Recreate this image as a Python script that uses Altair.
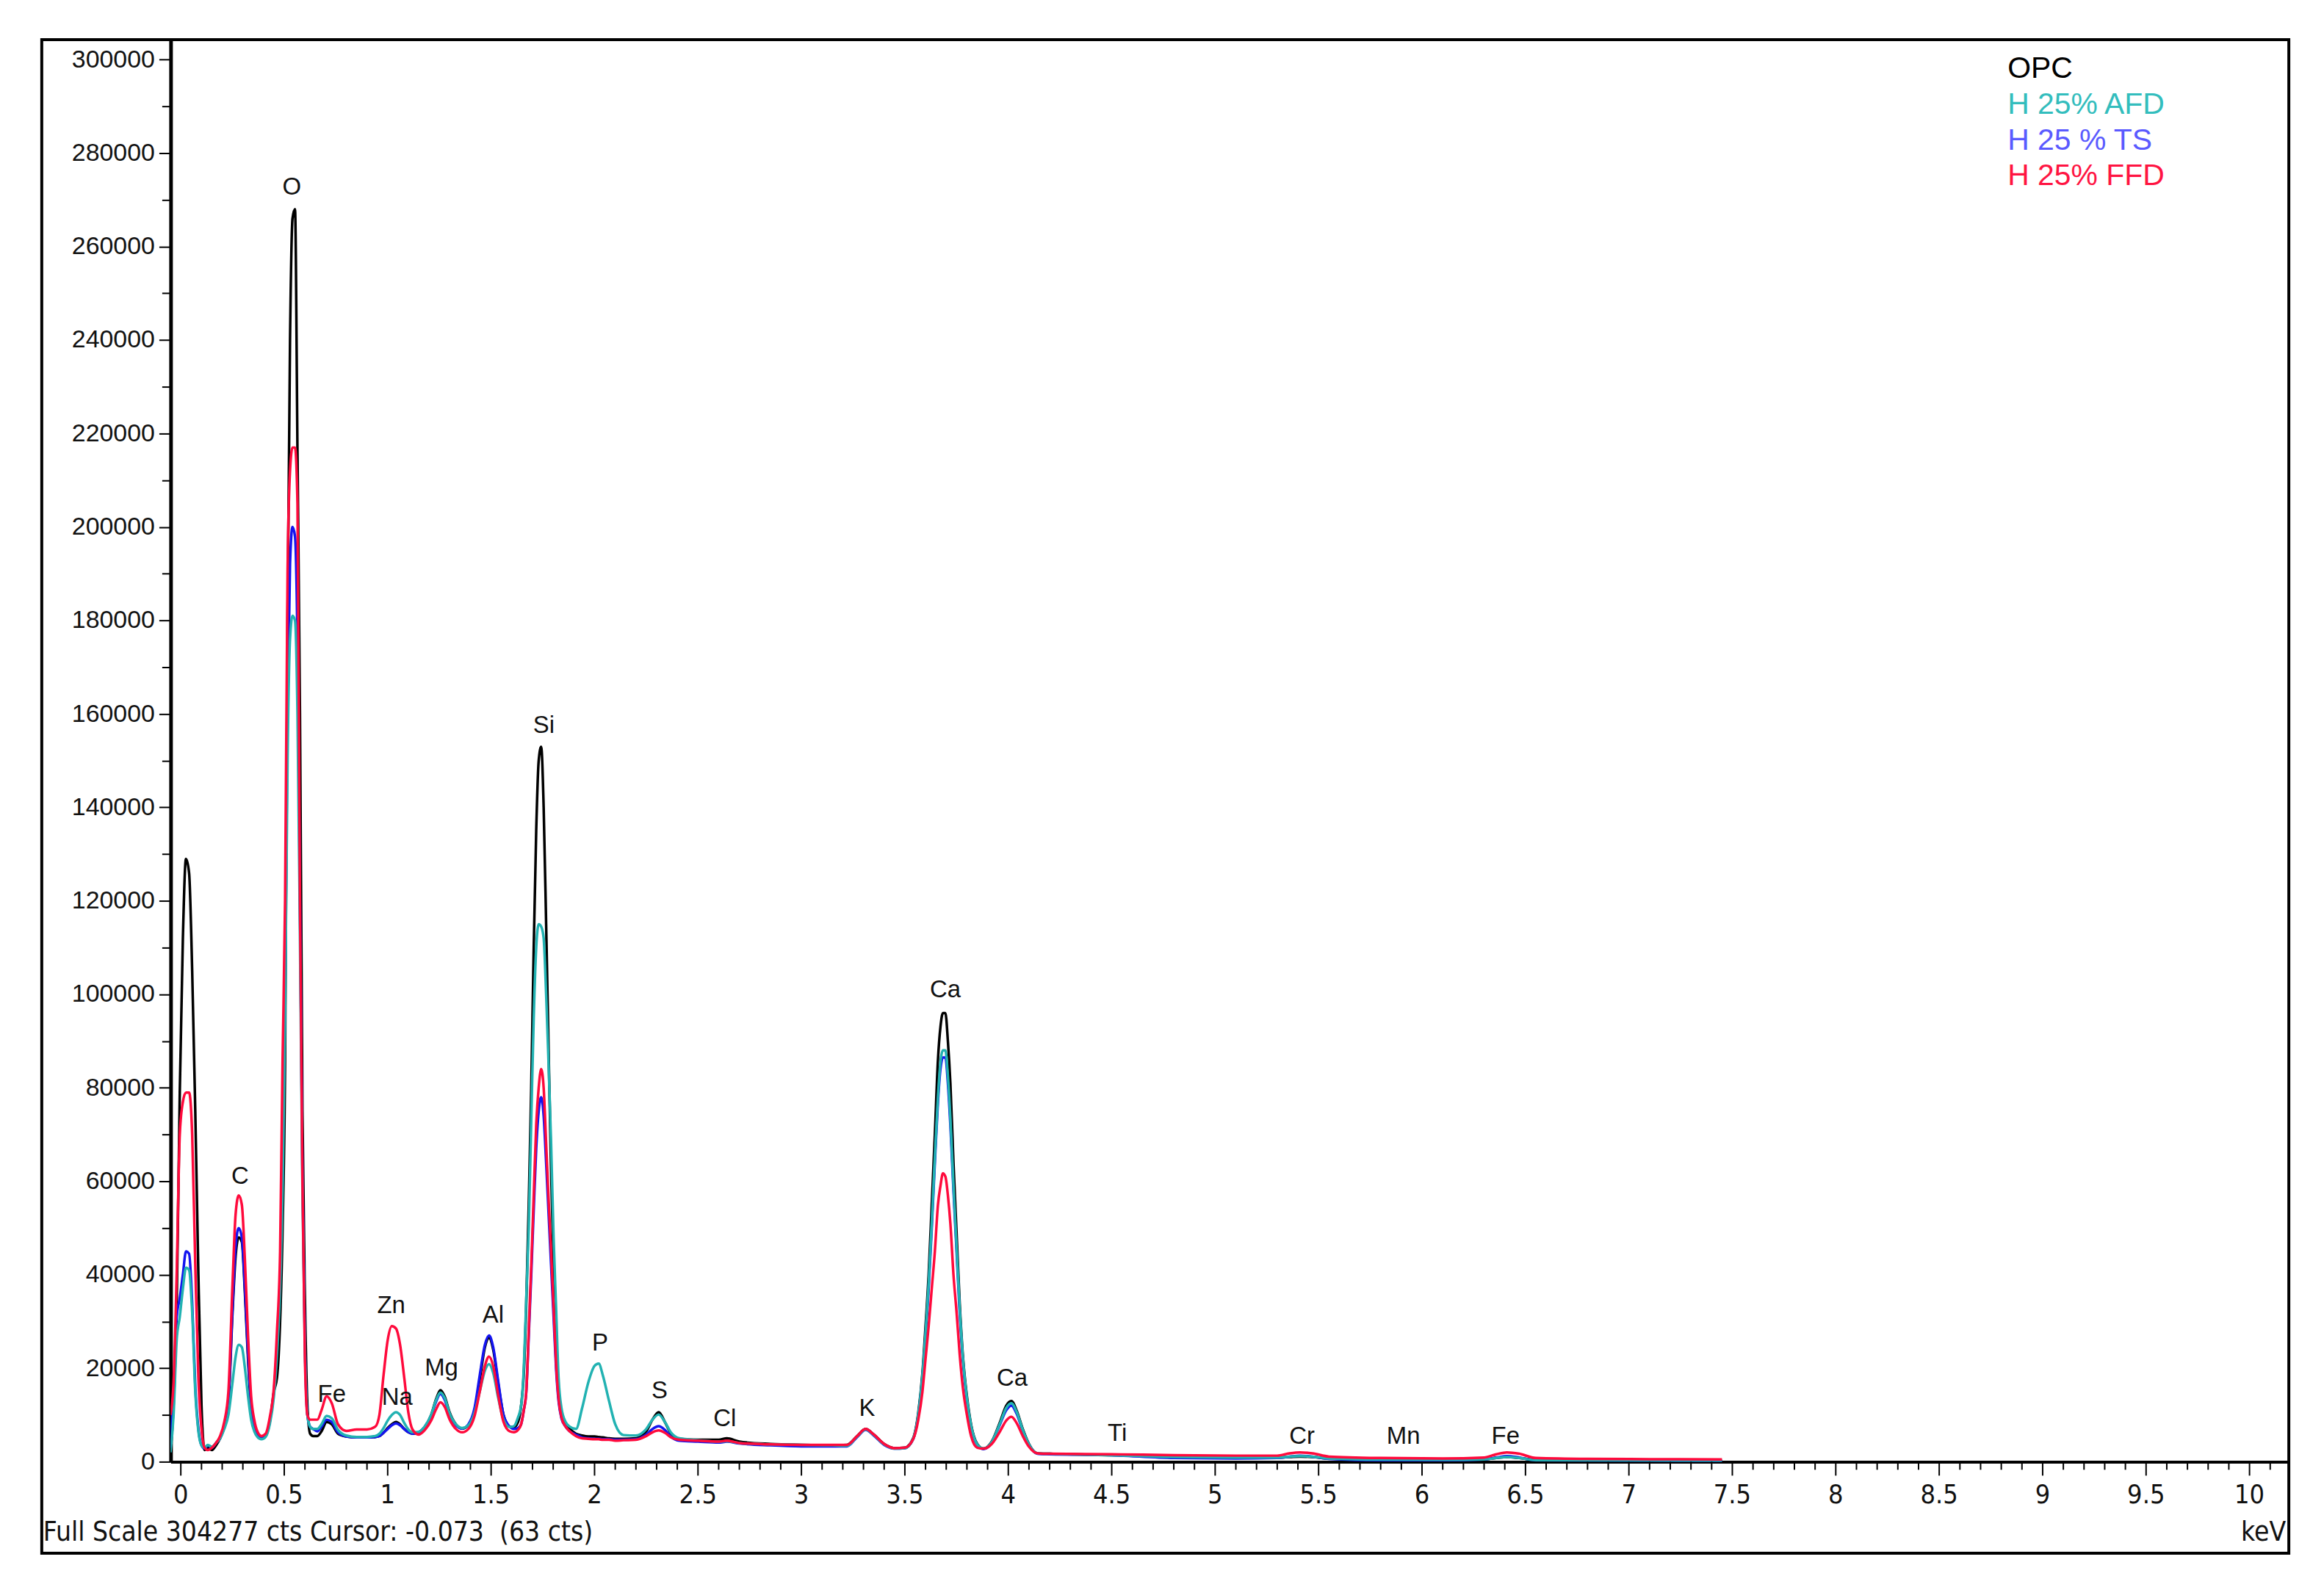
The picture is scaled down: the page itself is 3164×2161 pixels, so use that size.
import json
import altair as alt
import pandas as pd

# ---------------- data ----------------
kev = [
    -0.05, -0.035, -0.02, -0.005, 0.01, 0.025, 0.04, 0.055, 0.07, 0.085, 0.1, 0.115, 0.13,
    0.15, 0.17, 0.19, 0.21, 0.23, 0.25, 0.265, 0.28, 0.295, 0.31, 0.325, 0.34, 0.355, 0.37, 0.39, 0.41, 0.43, 0.45,
    0.465, 0.48, 0.492, 0.504, 0.516, 0.528, 0.54, 0.552, 0.564, 0.576, 0.588, 0.6, 0.612, 0.625, 0.64,
    0.66, 0.68, 0.705, 0.73, 0.76, 0.8, 0.85, 0.9, 0.94, 0.96, 0.98, 1.0, 1.02, 1.04, 1.06, 1.08, 1.1, 1.12, 1.15, 1.18,
    1.21, 1.235, 1.255, 1.275, 1.3, 1.33, 1.36, 1.39, 1.42, 1.445, 1.47, 1.49, 1.51, 1.535, 1.56, 1.59, 1.61, 1.63,
    1.645, 1.658, 1.67, 1.682, 1.694, 1.706, 1.718, 1.73, 1.742, 1.754, 1.766, 1.778, 1.79, 1.802, 1.814, 1.826, 1.84, 1.86, 1.88,
    1.91, 1.94, 1.97, 2.0, 2.02, 2.04, 2.07, 2.1, 2.14, 2.2, 2.25, 2.28, 2.31, 2.34, 2.37, 2.41, 2.5, 2.6, 2.64, 2.7, 2.85, 3.0, 3.15,
    3.22, 3.27, 3.31, 3.35, 3.4, 3.45, 3.5, 3.54, 3.565, 3.585, 3.6, 3.615, 3.63, 3.645, 3.66, 3.672, 3.684, 3.696, 3.708, 3.72,
    3.735, 3.75, 3.765, 3.78, 3.8, 3.82, 3.85, 3.88, 3.92, 3.96, 3.99, 4.015, 4.04, 4.07, 4.1, 4.14, 4.2,
    4.5, 4.8, 5.1, 5.3, 5.36, 5.41, 5.47, 5.55, 5.8, 6.1, 6.3, 6.36, 6.41, 6.47, 6.55, 6.8, 7.1, 7.45,
]

opc_cts = [
    2000, 12000, 33000, 79000, 112000, 129000, 126000, 105000, 75000, 40000, 12000, 2500, 3000,
    2500, 3500, 5000, 7500, 12500, 32000, 44000, 48000, 47000, 36000, 22000, 11500, 7500, 5800, 5000, 5500, 8500, 15000,
    18000, 30000, 50000, 85000, 180000, 240000, 266000, 268000, 216000, 160000, 75000, 35000, 12000, 6000, 5500,
    5500, 6500, 8500, 8000, 6000, 5400, 5200, 5200, 5300, 5500, 6200, 7200, 8000, 8500, 8000, 7000, 6300, 6000, 6300, 7500,
    10000, 13500, 15300, 14000, 10500, 8000, 7100, 7800, 11000, 17500, 24500, 26500, 24000, 16500, 10000, 7500, 7400, 8500,
    12000, 19000, 34000, 55000, 80000, 110000, 135000, 150000, 153000, 140000, 115000, 88000, 62000, 42000, 25000, 14000, 10000, 8000, 7000,
    6000, 5600, 5400, 5400, 5300, 5200, 5000, 4900, 4900, 5000, 6500, 9000, 10600, 8500, 6000, 4900, 4700, 4700, 5000, 4300, 3800, 3600, 3500,
    3600, 5500, 7000, 5800, 3800, 2900, 3000, 5000, 10500, 19000, 29000, 40000, 55000, 70000, 86000, 93000, 96000, 96000, 90000, 81000,
    64000, 49000, 34000, 23000, 14000, 8000, 3800, 2800, 4300, 8500, 12000, 13000, 11000, 7000, 3800, 1800, 1700,
    1400, 1100, 900, 900, 1000, 1100, 1000, 700, 500, 400, 500, 800, 1000, 800, 400, 300, 250, 200,
]

afd_cts = [
    2000, 10000, 26000, 31000, 37000, 41500, 41000, 32000, 15000, 6500, 3500, 3000, 3600,
    3200, 4000, 5000, 7000, 10000, 17000, 22500, 25000, 24500, 20000, 14000, 9000, 6500, 5300, 4800, 5300, 8000, 14000,
    23000, 37000, 58000, 95000, 150000, 176000, 181000, 180000, 160000, 112000, 58000, 24000, 10000, 7500, 7000,
    7000, 8000, 9800, 9300, 6800, 5600, 5300, 5300, 5500, 6000, 7200, 8800, 10000, 10600, 10000, 8300, 6900, 6300, 6400, 7600,
    10000, 13300, 14800, 13700, 10300, 8000, 7200, 7800, 10500, 15000, 19500, 20900, 19000, 13500, 9000, 7400, 7600, 9500,
    12000, 20000, 35000, 50000, 73000, 95000, 110000, 115000, 114500, 112000, 100000, 85000, 68000, 48000, 33000, 18000, 11500, 8500, 7500,
    7000, 11500, 17000, 20500, 21000, 18500, 13000, 8000, 5700, 5600, 7000, 9000, 10100, 8500, 6200, 5000, 4600, 4300, 4400, 4000, 3700, 3600, 3500,
    3400, 5400, 6900, 5700, 3700, 2800, 2900, 4900, 10200, 18500, 27500, 38000, 51000, 65000, 78000, 85500, 88000, 88000, 82500, 73500,
    59000, 46000, 33000, 22500, 13500, 7800, 3700, 2800, 4200, 8200, 11500, 12500, 10700, 6800, 3700, 1800, 1700,
    1400, 1000, 900, 900, 1100, 1200, 1100, 700, 450, 400, 500, 800, 1000, 800, 350, 300, 250, 200,
]

ts_cts = [
    3000, 15000, 31000, 35000, 40000, 45000, 44500, 34000, 16000, 7000, 3500, 2800, 3500,
    3000, 4000, 5000, 7500, 13000, 33000, 46000, 50000, 48000, 37000, 23000, 12000, 8000, 6000, 5000, 5500, 8500, 15000,
    25000, 40000, 62000, 100000, 160000, 192000, 200000, 198000, 175000, 120000, 62000, 25000, 10000, 7500, 7000,
    6500, 7500, 9000, 8500, 6300, 5400, 5200, 5200, 5300, 5500, 6200, 7000, 7800, 8200, 7800, 7000, 6300, 6000, 6300, 7500,
    9800, 13000, 14500, 13300, 10000, 7800, 7100, 8000, 11500, 18500, 25000, 27000, 24500, 17000, 10000, 7500, 7000, 7200,
    8000, 11000, 15000, 27000, 40000, 54000, 67000, 75000, 78000, 74000, 64000, 53000, 42000, 31000, 20000, 13000, 9300, 7500, 6500,
    5800, 5200, 5000, 4900, 4900, 4800, 4800, 4700, 4700, 4800, 5800, 7000, 7600, 6800, 5300, 4500, 4300, 4100, 4300, 3900, 3500, 3300, 3300,
    3300, 5300, 6800, 5600, 3600, 2800, 2900, 4800, 10000, 18000, 27000, 37000, 50000, 64000, 77000, 84000, 86500, 86500, 81000, 72000,
    58000, 45000, 32000, 22000, 13000, 7500, 3600, 2700, 4100, 8000, 11000, 12000, 10300, 6600, 3600, 1700, 1600,
    1400, 800, 700, 800, 1100, 1300, 1100, 600, 300, 300, 500, 900, 1200, 900, 300, 250, 200, 150,
]

ffd_cts = [
    10000, 17000, 40000, 70000, 77000, 79000, 79000, 70000, 42000, 18000, 7000, 3000, 2500,
    3000, 4000, 5500, 8500, 15000, 38000, 53000, 57000, 55000, 43000, 27000, 14000, 9000, 6500, 5500, 6000, 9500, 16000,
    28000, 45000, 86000, 120000, 190000, 212000, 217000, 217000, 205000, 120000, 60000, 22000, 10000, 9000, 9000,
    9000, 11000, 14000, 12500, 8000, 6600, 6900, 6900, 7500, 10000, 18500, 26000, 29000, 28500, 25000, 18000, 10500, 6900, 5800, 6800,
    8800, 11300, 12700, 11800, 9000, 7000, 6300, 7000, 9800, 15000, 20500, 22500, 20500, 14000, 8500, 6500, 6300, 6800,
    8000, 11000, 15000, 28000, 42000, 57000, 72000, 80000, 84000, 80000, 68000, 56000, 45000, 33000, 21000, 13500, 9500, 7500, 6500,
    5500, 5000, 4900, 4800, 4800, 4700, 4700, 4500, 4600, 4700, 5500, 6300, 6700, 6200, 5200, 4700, 4500, 4300, 4500, 4000, 3700, 3600, 3600,
    3600, 5500, 7000, 5800, 3800, 2900, 3000, 4800, 9000, 15000, 22000, 29000, 37000, 45000, 55000, 59000, 61700, 61000, 57000, 51000,
    40000, 32000, 23000, 16000, 10000, 5500, 3000, 2800, 3800, 6500, 8800, 9600, 8300, 5500, 3200, 1800, 1700,
    1600, 1400, 1300, 1300, 1800, 2000, 1800, 1100, 800, 700, 900, 1600, 2000, 1700, 800, 600, 550, 500,
]

series_names = ["OPC", "H 25% AFD", "H 25 % TS", "H 25% FFD"]
line_colors = ["#000000", "#22B2B2", "#1414F0", "#FF0A3C"]
legend_colors = ["#000000", "#33BDBD", "#5A5AFF", "#FF1442"]

elem_names = ["O", "C", "Fe", "Zn", "Na", "Mg", "Al", "Si", "P", "S", "Cl", "K", "Ca", "Ca", "Ti", "Cr", "Mn", "Fe"]
elem_kev = [0.537, 0.287, 0.73, 1.017, 1.046, 1.26, 1.51, 1.755, 2.027, 2.314, 2.63, 3.317, 3.696, 4.019, 4.527, 5.42, 5.91, 6.404]
elem_cts = [272700, 61000, 14300, 33300, 13700, 20000, 31400, 157500, 25400, 15200, 9200, 11400, 101000, 17800, 6000, 5400, 5400, 5400]

# x-axis ticks (keV): labelled every 0.5, small ticks every 0.1
x_major = [0, 0.5, 1, 1.5, 2, 2.5, 3, 3.5, 4, 4.5, 5, 5.5, 6, 6.5, 7, 7.5, 8, 8.5, 9, 9.5, 10]
x_major_text = ["0", "0.5", "1", "1.5", "2", "2.5", "3", "3.5", "4", "4.5", "5", "5.5", "6", "6.5",
                "7", "7.5", "8", "8.5", "9", "9.5", "10"]
x_minor = [round(i / 10, 1) for i in range(0, 102) if i % 5 != 0]
y_major = [0, 20000, 40000, 60000, 80000, 100000, 120000, 140000, 160000, 180000, 200000,
           220000, 240000, 260000, 280000, 300000]
y_ticks = [i * 5000 for i in range(0, 61)]

footer_text = "Full Scale 304277 cts Cursor: -0.073\u00a0 (63 cts)"
unit_text = "keV"

# ---------------- layout ----------------
W, H = 2892, 1942
XMIN, XMAX = -0.049, 10.19
YMAX = 304277
SANS = "Liberation Sans, Arial, sans-serif"
NARROW = "Liberation Sans Narrow, DejaVu Sans Condensed, Liberation Sans, sans-serif"

xscale = alt.Scale(domain=[XMIN, XMAX], nice=False, zero=False)
yscale = alt.Scale(domain=[0, YMAX], nice=False, zero=True)

y_major_test = "indexof(%s, datum.value) >= 0" % json.dumps(y_major)

x_axis = alt.Axis(
    values=x_major, title=None, grid=False, ticks=False, labels=False,
    domainColor="black", domainWidth=4,
)
y_axis = alt.Axis(
    values=y_ticks, title=None, grid=False,
    labelExpr="%s ? format(datum.value, 'd') : ''" % y_major_test,
    tickSize={"condition": {"test": y_major_test, "value": 16}, "value": 12},
    tickColor="black", tickWidth=2, domainColor="black", domainWidth=5,
    labelFont=SANS, labelFontSize=34, labelColor="#111111", labelPadding=6,
    labelOverlap=False, labelFlush=False, labelBound=False,
)

frames = []
for name, vals in zip(series_names, [opc_cts, afd_cts, ts_cts, ffd_cts]):
    frames.append(pd.DataFrame({"keV": kev, "counts": vals, "series": name}))
spec = pd.concat(frames, ignore_index=True)

layers = []
draw_order = [0, 2, 1, 3]
for k, idx in enumerate(draw_order):
    name = series_names[idx]
    d = spec[spec["series"] == name]
    if k == 0:
        enc = dict(
            x=alt.X("keV:Q", scale=xscale, axis=x_axis),
            y=alt.Y("counts:Q", scale=yscale, axis=y_axis),
        )
    else:
        enc = dict(x=alt.X("keV:Q", scale=xscale), y=alt.Y("counts:Q", scale=yscale))
    layers.append(
        alt.Chart(d).mark_line(
            color=line_colors[idx], strokeWidth=3.5, interpolate="monotone", clip=True
        ).encode(**enc)
    )

# x-axis ticks and labels drawn through the x scale
major_df = pd.DataFrame({"keV": x_major, "txt": x_major_text})
minor_df = pd.DataFrame({"keV": x_minor})
major_ticks = alt.Chart(major_df).mark_rule(color="black", strokeWidth=2).encode(
    x=alt.X("keV:Q", scale=xscale), y=alt.value(H), y2=alt.value(H + 19)
)
minor_ticks = alt.Chart(minor_df).mark_rule(color="black", strokeWidth=2).encode(
    x=alt.X("keV:Q", scale=xscale), y=alt.value(H), y2=alt.value(H + 11)
)
major_text = alt.Chart(major_df).mark_text(
    font=NARROW, fontSize=36, color="#111111", align="center", baseline="middle"
).encode(x=alt.X("keV:Q", scale=xscale), y=alt.value(H + 46), text="txt:N")

elem_df = pd.DataFrame({"el": elem_names, "keV": elem_kev, "counts": elem_cts})
labels = alt.Chart(elem_df).mark_text(
    font=SANS, fontSize=33, color="#111111", align="center", baseline="middle"
).encode(
    x=alt.X("keV:Q", scale=xscale),
    y=alt.Y("counts:Q", scale=yscale),
    text="el:N",
)

one = pd.DataFrame({"a": [0]})
frame = alt.Chart(one).mark_rect(filled=False, stroke="black", strokeWidth=4).encode(
    x=alt.value(-176), x2=alt.value(W), y=alt.value(0), y2=alt.value(2067)
)

legend_layers = []
for i, (name, col) in enumerate(zip(series_names, legend_colors)):
    legend_layers.append(
        alt.Chart(one).mark_text(
            text=name, font=SANS, fontSize=41, color=col, align="left", baseline="middle"
        ).encode(x=alt.value(2508), y=alt.value(40 + 49 * i))
    )

footer = alt.Chart(one).mark_text(
    text=footer_text, font=NARROW, fontSize=37, color="#111111", align="left", baseline="middle"
).encode(x=alt.value(-174), y=alt.value(2039))
unit = alt.Chart(one).mark_text(
    text=unit_text, font=NARROW, fontSize=37, color="#111111", align="right", baseline="middle"
).encode(x=alt.value(2888), y=alt.value(2039))

chart = alt.layer(
    *layers, major_ticks, minor_ticks, major_text, labels, frame, *legend_layers, footer, unit
).properties(
    width=W, height=H,
    autosize=alt.AutoSizeParams(type="none"),
    padding={"left": 225, "top": 43, "right": 40, "bottom": 160},
).configure_view(stroke=None).configure(background="white")

chart.save("out.html", embed_options={"renderer": "svg", "actions": False})
